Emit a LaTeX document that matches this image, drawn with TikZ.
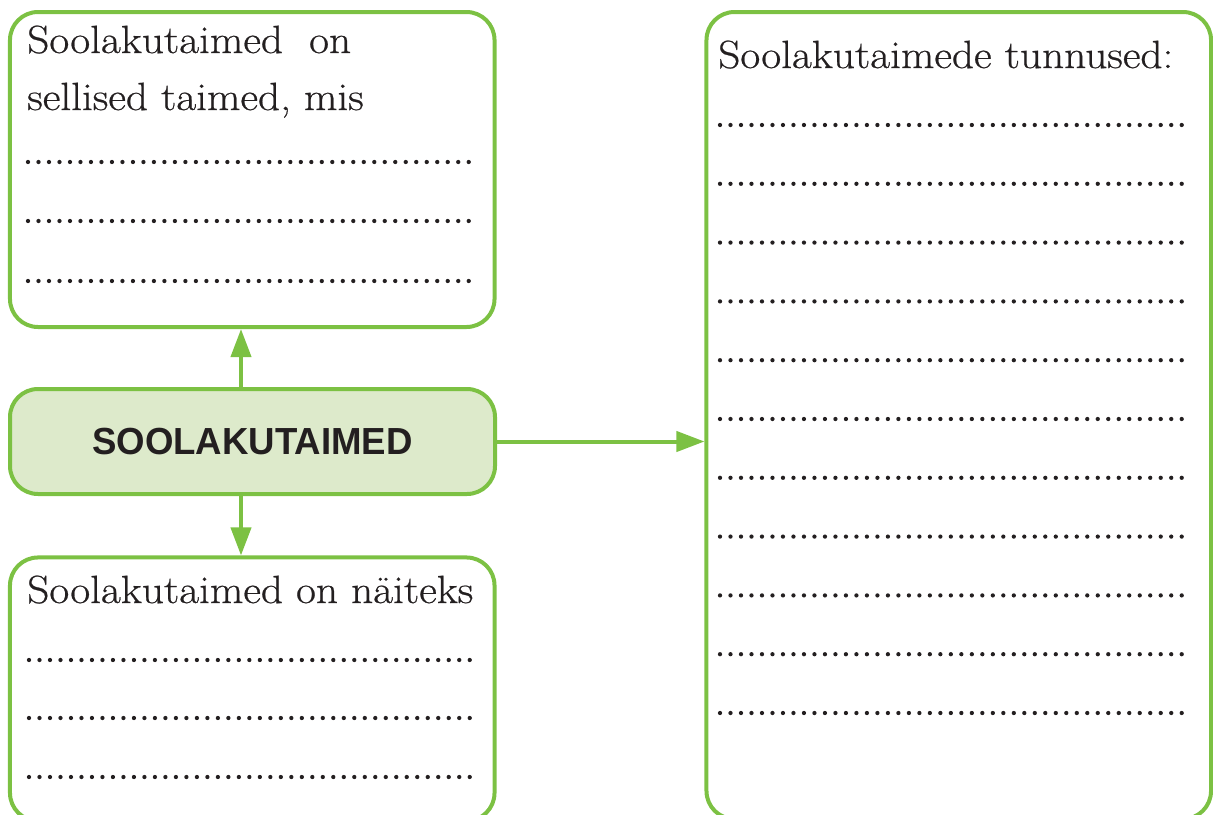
\documentclass[tikz,border=0pt]{standalone}
\usepackage{fontspec}
\newfontfamily\hubfont{Liberation Sans}
\newfontfamily\bodyfont{Latin Modern Roman}[FakeStretch=1.1, FakeBold=0.6]
\usetikzlibrary{arrows.meta}
\definecolor{leaf}{HTML}{7CC143}
\definecolor{leaffill}{HTML}{DDEACB}
\definecolor{ink}{HTML}{231F20}
\begin{document}
\begin{tikzpicture}[x=0.75pt,y=-0.75pt,
  panel/.style={rectangle, draw=leaf, line width=3pt, rounded corners=21pt, inner sep=0pt},
  link/.style={draw=leaf, line width=3pt, -{Triangle[length=21pt,width=15pt]}},
  body/.style={text=ink, font=\bodyfont\fontsize{29.5}{35}\selectfont, inner sep=0pt, anchor=base west},
  dotrow/.style={draw=ink, line width=3.2pt, line cap=round, dash pattern=on 0pt off 7.87pt}]
\useasboundingbox (0,0) rectangle (1213,814);
\clip (0,0) rectangle (1213,814);

% panels
\node[panel, minimum width=363.4pt, minimum height=236.25pt] (top) at (252.25,169.5) {};
\node[panel, fill=leaffill, minimum width=363.75pt, minimum height=78.75pt,
      text=ink, font=\hubfont\fontsize{28.3}{30}\selectfont\bfseries] (hub) at (252.5,441.5)
      {\scalebox{0.97}[1]{SOOLAKUTAIMED}};
\node[panel, minimum width=363.4pt, minimum height=197.6pt] (bottom) at (252.25,689.2) {};
\node[panel, minimum width=378.4pt, minimum height=605.25pt] (right) at (958.75,415.5) {};

% connectors
\coordinate (ax) at (241,0);
\draw[link] (hub.north -| ax) -- (top.south -| ax);
\draw[link] (hub.south -| ax) -- (bottom.north -| ax);
\draw[link] (hub.east) -- (right.west |- hub.east);

% texts
\node[body] (t1) at (27,53) {Soolakutaimed\ \ on};
\node[body] (t2) at (27,110) {sellised taimed, mis};
\node[body] (b1) at (27,603) {Soolakutaimed on näiteks};
\node[body] (r1) at (718,68) {Soolakutaimede tunnused:};

% writing lines
\foreach \y in {162,221,281}
  \draw[dotrow] (28,\y) -- (470,\y);
\foreach \y in {660,718,777}
  \draw[dotrow] (29,\y) -- (470,\y);
\foreach \k in {0,...,10}
  \draw[dotrow] (720,125+\k*58.8) -- (1190,125+\k*58.8);
\end{tikzpicture}
\end{document}
